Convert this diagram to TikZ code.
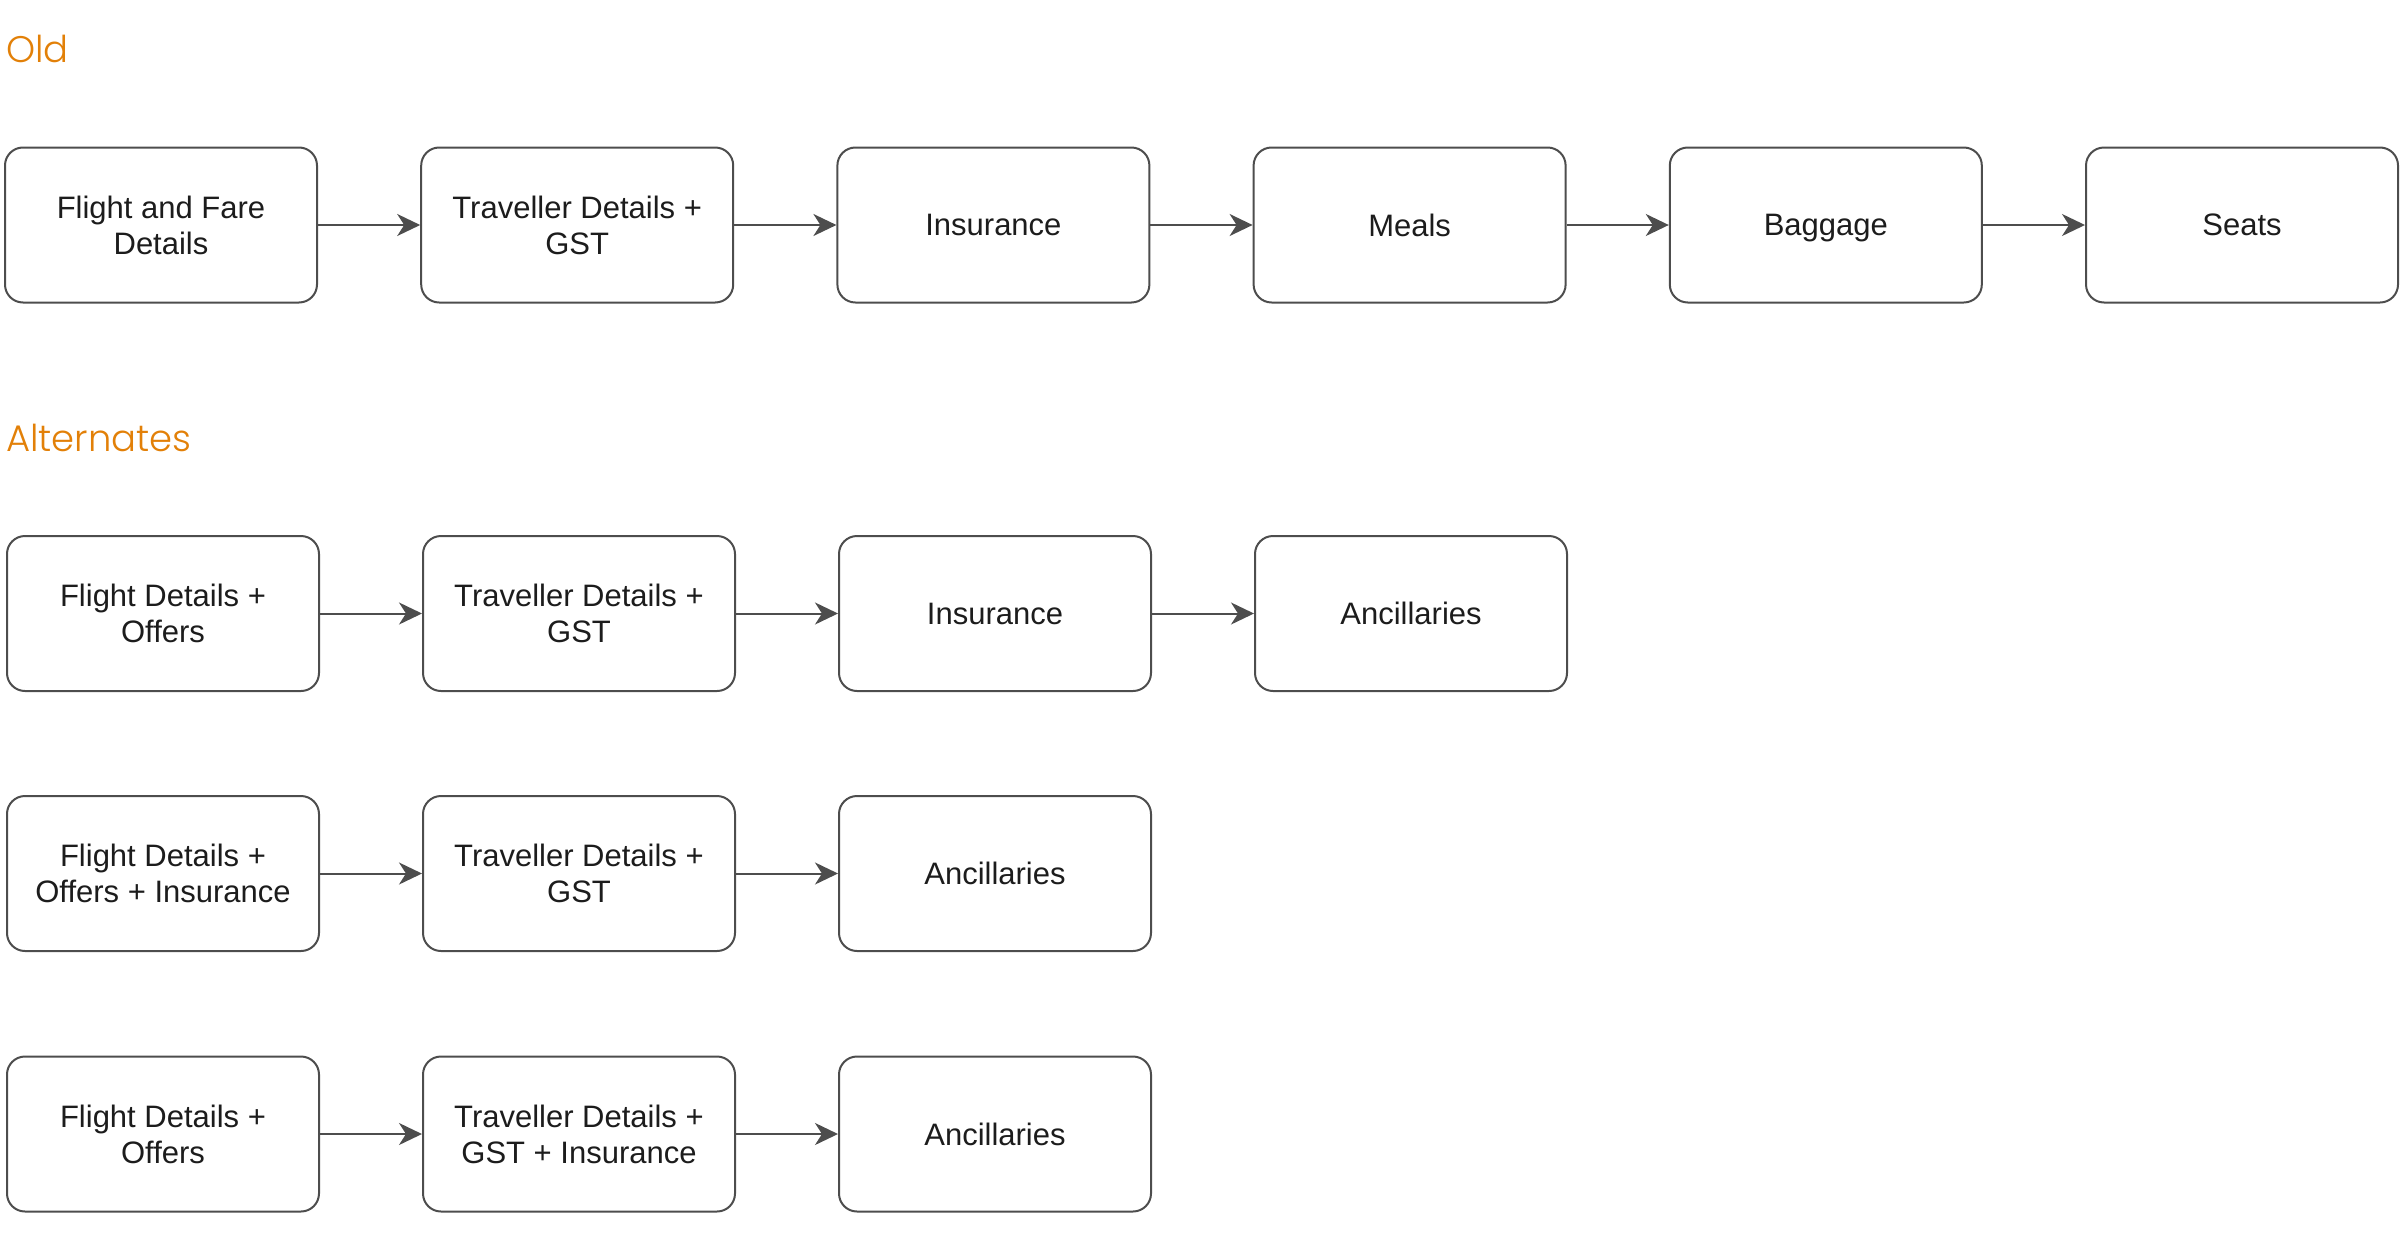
\documentclass[tikz,border=0pt]{standalone}
\usepackage{fontspec}
\setmainfont{Liberation Sans}
\newfontfamily\titlefont{Poppins Light}
\usetikzlibrary{arrows.meta}
\definecolor{ttl}{RGB}{226,128,8}
\definecolor{edge}{RGB}{77,77,77}
\definecolor{txt}{RGB}{28,28,28}
\tikzset{
  box/.style={draw=edge, line width=2pt, rounded corners=18pt, minimum width=312pt, minimum height=155pt, inner sep=0pt, align=center, text=txt, text depth=0pt, font=\fontsize{31}{36}\selectfont},
  flow/.style={draw=edge, line width=2pt, -{Stealth[length=23pt,width=22pt,inset=7pt]}},
  title/.style={anchor=base west, inner sep=0pt, text=ttl, font=\titlefont\fontsize{37}{44}\selectfont}
}
\begin{document}
\begin{tikzpicture}[x=1pt,y=-1pt]
\useasboundingbox (0,0) rectangle (2400,1250);
\node[title] (t1) at (6,62) {Old};
\node[title] (t2) at (6,451) {Alternates};
% row 1
\node[box] (a1) at (161,225) {Flight and Fare\\Details};
\node[box] (a2) at (577.2,225) {Traveller Details +\\GST};
\node[box] (a3) at (993.4,225) {Insurance};
\node[box] (a4) at (1409.6,225) {Meals};
\node[box] (a5) at (1825.8,225) {Baggage};
\node[box] (a6) at (2242,225) {Seats};
\draw[flow] (a1) -- (a2);
\draw[flow] (a2) -- (a3);
\draw[flow] (a3) -- (a4);
\draw[flow] (a4) -- (a5);
\draw[flow] (a5) -- (a6);
% row 2
\node[box] (b1) at (163,613.5) {Flight Details +\\Offers};
\node[box] (b2) at (579,613.5) {Traveller Details +\\GST};
\node[box] (b3) at (995,613.5) {Insurance};
\node[box] (b4) at (1411,613.5) {Ancillaries};
\draw[flow] (b1) -- (b2);
\draw[flow] (b2) -- (b3);
\draw[flow] (b3) -- (b4);
% row 3
\node[box] (c1) at (163,873.5) {Flight Details +\\Offers + Insurance};
\node[box] (c2) at (579,873.5) {Traveller Details +\\GST};
\node[box] (c3) at (995,873.5) {Ancillaries};
\draw[flow] (c1) -- (c2);
\draw[flow] (c2) -- (c3);
% row 4
\node[box] (d1) at (163,1134) {Flight Details +\\Offers};
\node[box] (d2) at (579,1134) {Traveller Details +\\GST + Insurance};
\node[box] (d3) at (995,1134) {Ancillaries};
\draw[flow] (d1) -- (d2);
\draw[flow] (d2) -- (d3);
\end{tikzpicture}
\end{document}
